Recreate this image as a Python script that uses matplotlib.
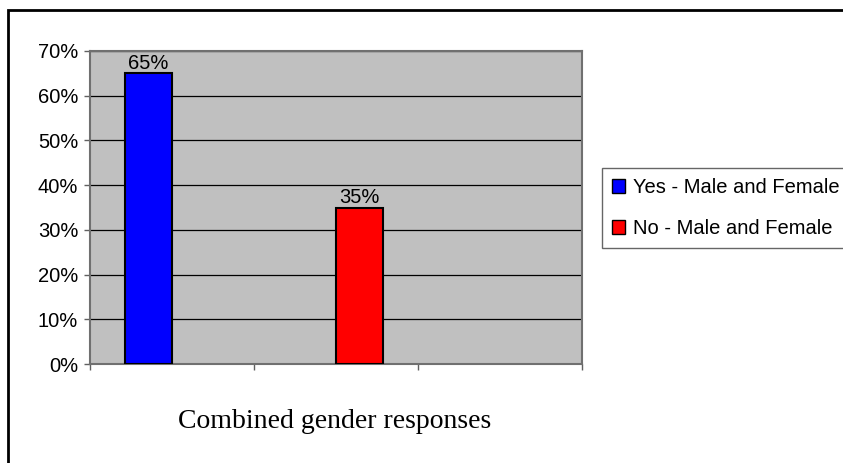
import numpy as np
import matplotlib
matplotlib.use('Agg')
import matplotlib.pyplot as plt
from matplotlib.patches import Rectangle, Patch

# data
categories = ['Yes', 'No', '']
yes_vals = [0.65, np.nan, np.nan]
no_vals = [np.nan, 0.35, np.nan]
series_names = ['Yes - Male and Female', 'No - Male and Female']
yticks = [0, 0.1, 0.2, 0.3, 0.4, 0.5, 0.6, 0.7]

plt.rcParams['font.family'] = ['Liberation Sans', 'DejaVu Sans']

fig = plt.figure(figsize=(8.43, 4.63), dpi=100)
W, H = 843, 463
ax = fig.add_axes([90 / W, 1 - 364 / H, (582 - 90) / W, (364 - 51) / H])
ax.set_facecolor('#C0C0C0')

x = np.arange(len(categories))
bw = 1 / 3.5
b1 = ax.bar(x - bw / 2, yes_vals, bw, color='#0000FF', edgecolor='black', linewidth=1.5, zorder=3)
b2 = ax.bar(x + bw / 2, no_vals, bw, color='#FF0000', edgecolor='black', linewidth=1.5, zorder=3)

for xs, vals in [(x - bw / 2, yes_vals), (x + bw / 2, no_vals)]:
    for xi, v in zip(xs, vals):
        if not np.isnan(v):
            ax.annotate(f'{v:.0%}', (xi, v), xytext=(0, 0.5), textcoords='offset points',
                        ha='center', va='bottom', fontsize=14.5)

ax.set_xlim(-0.5, len(categories) - 0.5)
ax.set_ylim(0, 0.7)
ax.set_yticks(yticks)
ax.set_yticklabels([f'{t:.0%}' for t in yticks], fontsize=14.5)
ax.set_xticks(np.arange(len(categories) + 1) - 0.5)
ax.set_xticklabels([])
ax.yaxis.grid(True, color='black', linewidth=0.9, zorder=1)
ax.set_axisbelow(True)
ax.tick_params(axis='both', direction='out', length=4.5, width=1, color='#606060', pad=4)
for s in ax.spines.values():
    s.set_color('#707070')
    s.set_linewidth(1.5)

fig.text(335 / W, 1 - 422 / H, 'Combined gender responses', ha='center', va='center',
         fontsize=20, family='Liberation Serif')

handles = [Patch(facecolor='#0000FF', edgecolor='black', linewidth=1),
           Patch(facecolor='#FF0000', edgecolor='black', linewidth=1)]
leg = fig.legend(handles, series_names, loc='upper left', bbox_to_anchor=(602 / W, 1 - 168 / H),
                 fontsize=14.5, frameon=True, fancybox=False, borderaxespad=0,
                 handlelength=0.65, handleheight=0.65, handletextpad=0.4,
                 borderpad=0.5, labelspacing=1.1)
leg.get_frame().set_edgecolor('#404040')
leg.get_frame().set_linewidth(1)

# outer chart border (only left and top visible)
fig.patches.append(Rectangle((8 / W, -0.1), 1.2, 1 - 10 / H + 0.1, transform=fig.transFigure,
                             fill=False, edgecolor='black', linewidth=2))

fig.savefig('out.png', dpi=100)
